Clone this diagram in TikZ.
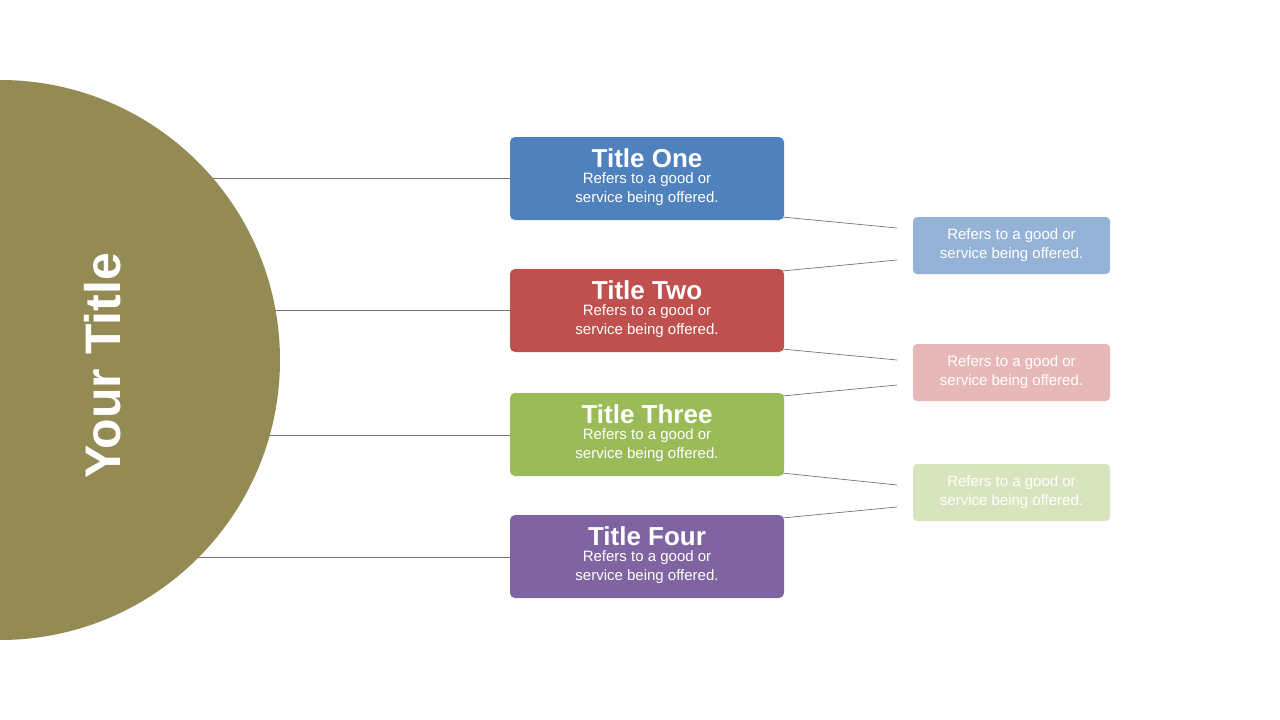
\documentclass[tikz,border=0pt]{standalone}
\usepackage{fontspec}
\setmainfont{Liberation Sans}
\definecolor{olive}{HTML}{948A54}
\definecolor{cblue}{HTML}{4F81BD}
\definecolor{cred}{HTML}{C0504D}
\definecolor{cgreen}{HTML}{9BBB59}
\definecolor{cpurple}{HTML}{8064A2}
\definecolor{lblue}{HTML}{95B3D7}
\definecolor{lred}{HTML}{E6B9B8}
\definecolor{lgreen}{HTML}{D7E4BD}
\tikzset{
  topic/.style={rounded corners=5pt,minimum width=274pt,minimum height=83pt,text=white,inner sep=0pt,font=\fontsize{15}{19}\selectfont},
  note/.style={rounded corners=4pt,minimum width=197pt,minimum height=57pt,text=white,align=center,inner sep=0pt,font=\fontsize{15}{19}\selectfont},
  link/.style={draw=gray!90!black,line width=0.7pt}
}
\newcommand{\topictext}[1]{\begin{tabular}{@{}c@{}}\fontsize{26}{26}\selectfont\bfseries #1\\[-3pt] Refers to a good or\\ service being offered.\end{tabular}}
\begin{document}
\begin{tikzpicture}[x=1pt,y=-1pt]
\useasboundingbox (0,0) rectangle (1280,720);
% topics
\node[topic,fill=cblue] (one) at (647,178.5) {\topictext{Title One}};
\node[topic,fill=cred] (two) at (647,310.5) {\topictext{Title Two}};
\node[topic,fill=cgreen] (three) at (647,434.5) {\topictext{Title Three}};
\node[topic,fill=cpurple] (four) at (647,556.5) {\topictext{Title Four}};
% notes
\node[note,fill=lblue] (n1) at (1011.5,245.5) {Refers to a good or\\service being offered.};
\node[note,fill=lred] (n2) at (1011.5,372.5) {Refers to a good or\\service being offered.};
\node[note,fill=lgreen] (n3) at (1011.5,492.5) {Refers to a good or\\service being offered.};
% links to circle
\foreach \t/\yy in {one/178,two/310,three/435,four/557}{
  \coordinate (c\t) at (0,\yy);
  \draw[link] (c\t) -- (\t.west |- c\t);
}
% links to notes
\coordinate (a1) at (897,228); \coordinate (b1) at (897,260);
\coordinate (a2) at (897,360); \coordinate (b2) at (897,385);
\coordinate (a3) at (897,485); \coordinate (b3) at (897,507);
\draw[link] (782,217) -- (a1);
\draw[link] (782,271) -- (b1);
\draw[link] (782,349) -- (a2);
\draw[link] (782,396) -- (b2);
\draw[link] (782,473) -- (a3);
\draw[link] (782,518) -- (b3);
% circle
\begin{scope}
\clip (0,0) rectangle (1280,720);
\fill[olive] (0,360) circle (280);
\end{scope}
\node[rotate=90,text=white,font=\fontsize{50}{50}\selectfont\bfseries] (title) at (103,366) {Your Title};
\end{tikzpicture}
\end{document}
